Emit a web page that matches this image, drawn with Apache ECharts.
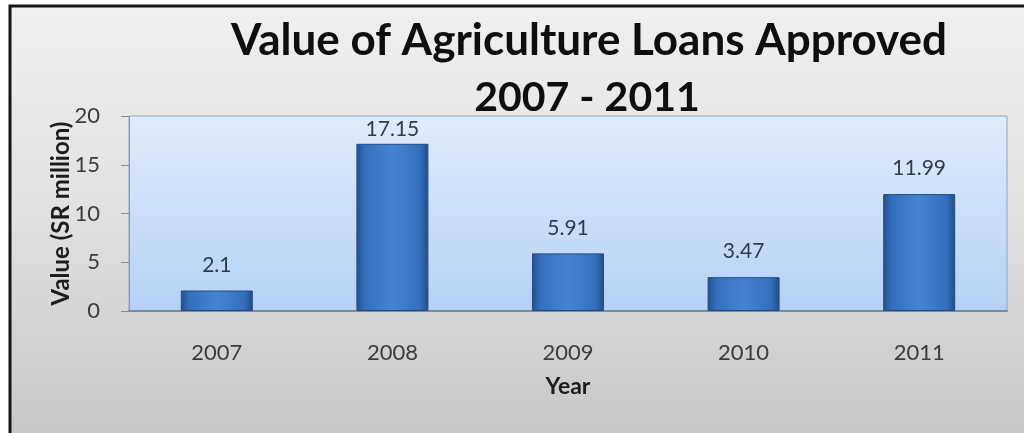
<!DOCTYPE html>
<html>
<head>
<meta charset="utf-8">
<script src="https://cdn.jsdelivr.net/npm/echarts@6/dist/echarts.min.js"></script>
<style>
  html, body { margin: 0; padding: 0; background: #ffffff; }
  #chart { width: 1024px; height: 433px; }
</style>
</head>
<body>
<div id="chart"></div>
<script>
// Loan values approved each year (SR million)
const years = ['2007', '2008', '2009', '2010', '2011'];
const loanValues = [2.1, 17.15, 5.91, 3.47, 11.99];
const yTicks = { min: 0, max: 20, step: 5 };

const titleLine1 = 'Value of Agriculture Loans Approved';
const titleLine2 = '2007 - 2011';
const FONT = 'Lato, "Open Sans", sans-serif';

const chart = echarts.init(document.getElementById('chart'), null, { renderer: 'canvas' });

const barFill = new echarts.graphic.LinearGradient(0, 0, 1, 0, [
  { offset: 0, color: '#234f8c' },
  { offset: 0.12, color: '#356fbb' },
  { offset: 0.5, color: '#4583d2' },
  { offset: 0.88, color: '#356fbb' },
  { offset: 1, color: '#224c87' }
]);

// The tallest bar keeps its value label tucked closer to the bar top
const maxValue = Math.max(...loanValues);
const barData = loanValues.map(v => v === maxValue
  ? { value: v, label: { distance: 4 } }
  : v);

chart.setOption({
  animation: false,
  backgroundColor: 'transparent',
  graphic: [{
    type: 'rect',
    z: -10,
    silent: true,
    shape: { x: 10, y: 6, width: 1020, height: 440 },
    style: {
      fill: new echarts.graphic.LinearGradient(0, 0, 0, 1, [
        { offset: 0, color: '#f1f0ee' },
        { offset: 0.45, color: '#e3e2e0' },
        { offset: 1, color: '#c6c6c6' }
      ]),
      stroke: '#151515',
      lineWidth: 3
    }
  }],
  title: [{
    text: titleLine1,
    left: 584,
    top: 14,
    textAlign: 'center',
    textStyle: { fontFamily: FONT, fontSize: 44, fontWeight: 'bold', color: '#0e0e0e' }
  }, {
    text: titleLine2,
    left: 582,
    top: 72,
    textAlign: 'center',
    textStyle: { fontFamily: FONT, fontSize: 41, fontWeight: 'bold', color: '#0e0e0e' }
  }],
  grid: {
    left: 129,
    right: 17,
    top: 116,
    bottom: 122,
    show: true,
    borderColor: '#8ea5c0',
    borderWidth: 1,
    backgroundColor: new echarts.graphic.LinearGradient(0, 0, 0, 1, [
      { offset: 0, color: '#e1ecfb' },
      { offset: 1, color: '#b4d1f6' }
    ])
  },
  xAxis: {
    type: 'category',
    data: years,
    name: 'Year',
    nameLocation: 'middle',
    nameGap: 64,
    nameTextStyle: { fontFamily: FONT, fontSize: 23, fontWeight: 'bold', color: '#1c1c1c' },
    axisLine: { show: true, lineStyle: { color: '#7d8a99', width: 2 } },
    axisTick: { show: false },
    axisLabel: { fontFamily: FONT, fontSize: 22, color: '#3c3c3c', margin: 31 }
  },
  yAxis: {
    type: 'value',
    min: yTicks.min,
    max: yTicks.max,
    interval: yTicks.step,
    name: 'Value (SR million)',
    nameLocation: 'middle',
    nameRotate: 90,
    nameGap: 56,
    nameMoveOverlap: false,
    nameTextStyle: { fontFamily: FONT, fontSize: 24, fontWeight: 'bold', color: '#1c1c1c' },
    axisLine: { show: true, lineStyle: { color: '#8a98a8', width: 1 } },
    axisTick: { show: true, length: 8, lineStyle: { color: '#8a8a8a' } },
    axisLabel: { fontFamily: FONT, fontSize: 22, color: '#3c3c3c', margin: 29 },
    splitLine: { show: false }
  },
  series: [{
    type: 'bar',
    data: barData,
    barWidth: '41%',
    itemStyle: {
      color: barFill,
      borderColor: '#214a84',
      borderWidth: 1
    },
    label: {
      show: true,
      position: 'top',
      distance: 15,
      fontFamily: FONT,
      fontSize: 21,
      color: '#2e3c52'
    }
  }]
});
</script>
</body>
</html>
